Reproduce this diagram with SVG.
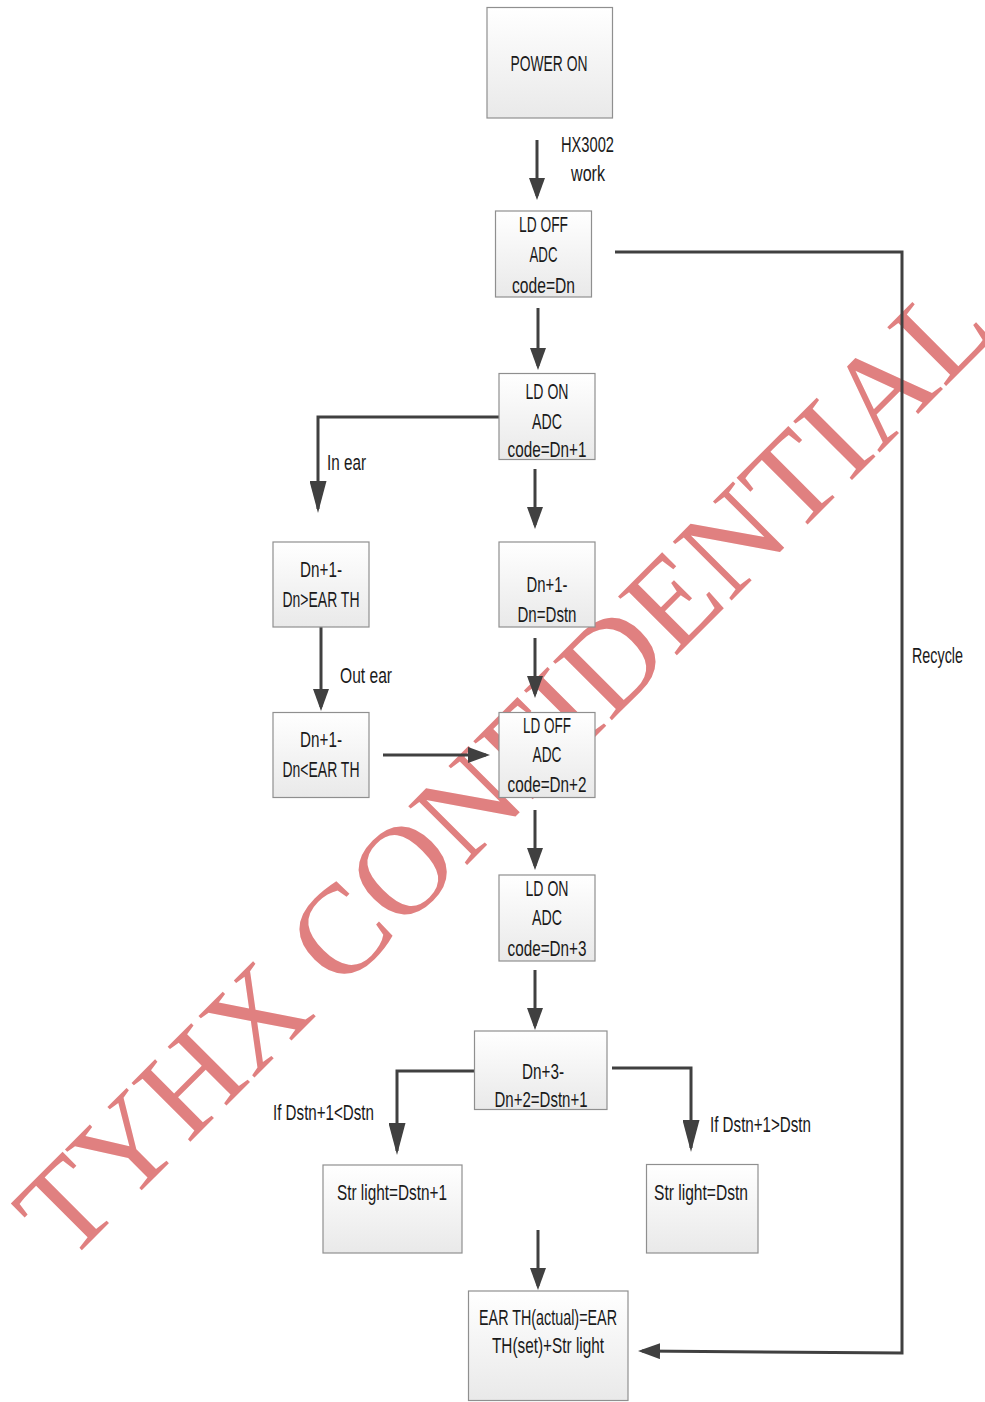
<svg xmlns="http://www.w3.org/2000/svg" width="985" height="1402" viewBox="0 0 985 1402">
<defs>
<linearGradient id="bg" x1="0" y1="0" x2="0" y2="1">
<stop offset="0" stop-color="#ffffff"/>
<stop offset="1" stop-color="#e9e9e9"/>
</linearGradient>
<marker id="ah" markerUnits="userSpaceOnUse" viewBox="0 0 22 16" markerWidth="22" markerHeight="16" refX="18" refY="8" orient="auto">
<path d="M0,0 L22,8 L0,16 z" fill="#404040"/>
</marker>
<marker id="ahl" markerUnits="userSpaceOnUse" viewBox="0 0 32 17" markerWidth="32" markerHeight="17" refX="28" refY="8.5" orient="auto">
<path d="M0,0 L32,8.5 L0,17 z" fill="#404040"/>
</marker>
<style>
.box{fill:url(#bg);stroke:#8f8f8f;stroke-width:1.2}
.t{font-family:"Liberation Sans Narrow","Liberation Sans",Arial,sans-serif;font-size:22px;fill:#1a1a1a;text-anchor:middle}
.l{font-family:"Liberation Sans Narrow","Liberation Sans",Arial,sans-serif;font-size:22px;fill:#1a1a1a}
.c{fill:none;stroke:#404040;stroke-width:3;marker-end:url(#ah)}
.cl{fill:none;stroke:#404040;stroke-width:3;marker-end:url(#ahl)}
.wm{font-family:"Liberation Serif","Times New Roman",serif;font-size:127px;fill:#e08080}
</style>
</defs>
<rect width="985" height="1402" fill="#ffffff"/>

<text class="wm" x="68" y="1264" transform="rotate(-45 68 1264)">TYHX CONFIDENTIAL</text>

<g id="connectors">
<path class="c" d="M537 140 V196"/>
<path class="c" d="M538 308 V366"/>
<path class="cl" d="M499 417 H318 V509"/>
<path class="c" d="M535 469 V525"/>
<path class="c" d="M321 627 V707"/>
<path class="c" d="M535 638 V694"/>
<path class="c" d="M383 755 H486"/>
<path class="c" d="M535 810 V866"/>
<path class="c" d="M535 970 V1026"/>
<path class="cl" d="M474 1071 H397 V1151"/>
<path class="cl" d="M612 1068 H691 V1148"/>
<path class="c" d="M538 1230 V1286"/>
<path class="c" d="M615 252 H902 V1353 L642 1351"/>
<text class="l" x="561" y="152" textLength="53" lengthAdjust="spacingAndGlyphs">HX3002</text>
<text class="l" x="571" y="181" textLength="34" lengthAdjust="spacingAndGlyphs">work</text>
<text class="l" x="327" y="470" textLength="39" lengthAdjust="spacingAndGlyphs">In ear</text>
<text class="l" x="340" y="683" textLength="52" lengthAdjust="spacingAndGlyphs">Out ear</text>
<text class="l" x="273" y="1120" textLength="101" lengthAdjust="spacingAndGlyphs">If Dstn+1&lt;Dstn</text>
<text class="l" x="710" y="1132" textLength="101" lengthAdjust="spacingAndGlyphs">If Dstn+1&gt;Dstn</text>
<text class="l" x="912" y="663" textLength="51" lengthAdjust="spacingAndGlyphs">Recycle</text>
</g>

<g id="power-on">
<rect class="box" x="487" y="7.5" width="125.5" height="110.5"/>
<text class="t" x="549" y="71" textLength="77" lengthAdjust="spacingAndGlyphs">POWER ON</text>
</g>

<g id="ld-off-1">
<rect class="box" x="495.5" y="211" width="96" height="86"/>
<text class="t" x="543.5" y="232" textLength="49" lengthAdjust="spacingAndGlyphs">LD OFF</text>
<text class="t" x="543.5" y="262" textLength="28" lengthAdjust="spacingAndGlyphs">ADC</text>
<text class="t" x="543.5" y="293" textLength="63" lengthAdjust="spacingAndGlyphs">code=Dn</text>
</g>

<g id="ld-on-1">
<rect class="box" x="499" y="373.5" width="96" height="86"/>
<text class="t" x="547" y="399" textLength="43" lengthAdjust="spacingAndGlyphs">LD ON</text>
<text class="t" x="547" y="429" textLength="30" lengthAdjust="spacingAndGlyphs">ADC</text>
<text class="t" x="547" y="457" textLength="79" lengthAdjust="spacingAndGlyphs">code=Dn+1</text>
</g>

<g id="in-ear-check">
<rect class="box" x="273" y="542" width="96" height="85"/>
<text class="t" x="321" y="577" textLength="42" lengthAdjust="spacingAndGlyphs">Dn+1-</text>
<text class="t" x="321" y="607" textLength="77" lengthAdjust="spacingAndGlyphs">Dn&gt;EAR TH</text>
</g>

<g id="dstn">
<rect class="box" x="499" y="542" width="96" height="85"/>
<text class="t" x="547" y="592" textLength="41" lengthAdjust="spacingAndGlyphs">Dn+1-</text>
<text class="t" x="547" y="622" textLength="59" lengthAdjust="spacingAndGlyphs">Dn=Dstn</text>
</g>

<g id="out-ear-check">
<rect class="box" x="273" y="712.5" width="96" height="85"/>
<text class="t" x="321" y="747" textLength="42" lengthAdjust="spacingAndGlyphs">Dn+1-</text>
<text class="t" x="321" y="777" textLength="77" lengthAdjust="spacingAndGlyphs">Dn&lt;EAR TH</text>
</g>

<g id="ld-off-2">
<rect class="box" x="499" y="712.5" width="96" height="85"/>
<text class="t" x="547" y="733" textLength="48" lengthAdjust="spacingAndGlyphs">LD OFF</text>
<text class="t" x="547" y="762" textLength="29" lengthAdjust="spacingAndGlyphs">ADC</text>
<text class="t" x="547" y="792" textLength="79" lengthAdjust="spacingAndGlyphs">code=Dn+2</text>
</g>

<g id="ld-on-2">
<rect class="box" x="499" y="875" width="96" height="86"/>
<text class="t" x="547" y="896" textLength="43" lengthAdjust="spacingAndGlyphs">LD ON</text>
<text class="t" x="547" y="925" textLength="30" lengthAdjust="spacingAndGlyphs">ADC</text>
<text class="t" x="547" y="956" textLength="79" lengthAdjust="spacingAndGlyphs">code=Dn+3</text>
</g>

<g id="dstn1">
<rect class="box" x="474.5" y="1031" width="132.5" height="78.5"/>
<text class="t" x="543" y="1079" textLength="42" lengthAdjust="spacingAndGlyphs">Dn+3-</text>
<text class="t" x="541" y="1107" textLength="93" lengthAdjust="spacingAndGlyphs">Dn+2=Dstn+1</text>
</g>

<g id="str-light-dstn1">
<rect class="box" x="323" y="1165" width="139" height="88"/>
<text class="t" x="392" y="1200" textLength="110" lengthAdjust="spacingAndGlyphs">Str light=Dstn+1</text>
</g>

<g id="str-light-dstn">
<rect class="box" x="646.5" y="1164.5" width="111.5" height="88.5"/>
<text class="t" x="701" y="1200" textLength="94" lengthAdjust="spacingAndGlyphs">Str light=Dstn</text>
</g>

<g id="ear-th-actual">
<rect class="box" x="468.5" y="1291" width="159.5" height="109.5"/>
<text class="t" x="548" y="1325" textLength="138" lengthAdjust="spacingAndGlyphs">EAR TH(actual)=EAR</text>
<text class="t" x="548" y="1353" textLength="112" lengthAdjust="spacingAndGlyphs">TH(set)+Str light</text>
</g>
</svg>
